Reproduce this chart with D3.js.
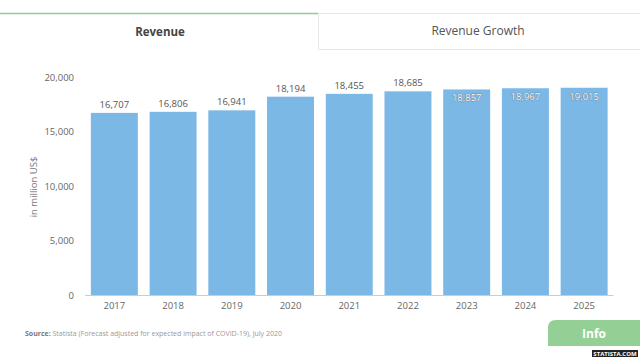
<!DOCTYPE html>
<html>
<head>
<meta charset="utf-8">
<script src="https://cdn.jsdelivr.net/npm/d3@7"></script>
<style>
  body { margin: 0; background: #fff; }
  svg { display: block; font-family: "Open Sans", sans-serif; }
</style>
</head>
<body>
<div id="chart"></div>
<script>
var years = ["2017", "2018", "2019", "2020", "2021", "2022", "2023", "2024", "2025"];
var revenue = [16707, 16806, 16941, 18194, 18455, 18685, 18857, 18967, 19015];
var yTicks = [0, 5000, 10000, 15000, 20000];
var insideLabel = ["2023", "2024", "2025"];

var w = 640, h = 360;
var fmt = d3.format(",");

var svg = d3.select("#chart").append("svg")
    .attr("width", w)
    .attr("height", h);

svg.append("rect").attr("width", w).attr("height", h).attr("fill", "#fff");

// tabs
svg.append("line")
    .attr("x1", 0).attr("x2", 318).attr("y1", 13.5).attr("y2", 13.5)
    .attr("stroke", "#8fcb93").attr("stroke-width", 1.5);
svg.append("rect")
    .attr("x", 318.5).attr("y", 13.5).attr("width", 322).attr("height", 36)
    .attr("fill", "#fff").attr("stroke", "#e8e8e8");
svg.append("text")
    .attr("x", 160).attr("y", 36)
    .attr("text-anchor", "middle")
    .attr("font-size", "11.5px").attr("font-weight", "bold")
    .attr("fill", "#444")
    .text("Revenue");
svg.append("text")
    .attr("x", 478).attr("y", 35)
    .attr("text-anchor", "middle")
    .attr("font-size", "12px")
    .attr("fill", "#555")
    .text("Revenue Growth");

var xScale = d3.scaleBand()
    .domain(years)
    .range([85, 613.5])
    .paddingInner(0.2)
    .paddingOuter(0.1);

var yScale = d3.scaleLinear()
    .domain([0, 20000])
    .range([295, 77]);

// y axis
var yAxis = svg.append("g")
    .attr("transform", "translate(74,0)")
    .call(d3.axisLeft(yScale).tickValues(yTicks).tickFormat(fmt).tickSize(0).tickPadding(0));
yAxis.select(".domain").remove();
yAxis.selectAll("text")
    .attr("font-family", "Open Sans, sans-serif")
    .attr("font-size", "9.5px")
    .attr("fill", "#666");

svg.append("text")
    .attr("transform", "translate(37,187) rotate(-90)")
    .attr("text-anchor", "middle")
    .attr("font-size", "9.5px")
    .attr("fill", "#777")
    .text("in million US$");

// bars
svg.selectAll("rect.bar")
    .data(revenue)
    .enter()
    .append("rect")
    .attr("class", "bar")
    .attr("x", function(d, i) { return xScale(years[i]); })
    .attr("y", function(d) { return yScale(d); })
    .attr("width", xScale.bandwidth())
    .attr("height", function(d) { return yScale(0) - yScale(d); })
    .attr("fill", "#7cb8e6");

// x axis
var xAxis = svg.append("g")
    .attr("transform", "translate(0,295)")
    .call(d3.axisBottom(xScale).tickSize(0).tickPadding(7));
xAxis.select(".domain").attr("stroke", "#ccc").attr("d", "M85,0.5H613.5");
xAxis.selectAll("text")
    .attr("font-family", "Open Sans, sans-serif")
    .attr("font-size", "9.5px")
    .attr("fill", "#666");

// value labels
svg.selectAll("text.val")
    .data(revenue)
    .enter()
    .append("text")
    .attr("class", "val")
    .attr("x", function(d, i) { return xScale(years[i]) + xScale.bandwidth() / 2; })
    .attr("y", function(d, i) {
        return insideLabel.indexOf(years[i]) >= 0 ? yScale(d) + 12 : yScale(d) - 5;
    })
    .attr("text-anchor", "middle")
    .attr("font-size", "9.5px")
    .attr("fill", function(d, i) { return insideLabel.indexOf(years[i]) >= 0 ? "#fff" : "#555"; })
    .attr("stroke", function(d, i) { return insideLabel.indexOf(years[i]) >= 0 ? "#666" : "none"; })
    .attr("stroke-width", 0.6)
    .attr("paint-order", "stroke")
    .text(function(d) { return fmt(d); });

// source
var src = svg.append("text")
    .attr("x", 25).attr("y", 336)
    .attr("font-size", "7px")
    .attr("fill", "#999");
src.append("tspan").attr("font-weight", "bold").attr("fill", "#777").text("Source: ");
src.append("tspan").text("Statista (Forecast adjusted for expected impact of COVID-19), July 2020");

// info button
svg.append("path")
    .attr("d", "M548,346V328Q548,320 556,320H640V346Z")
    .attr("fill", "#94cf96");
svg.append("text")
    .attr("x", 594).attr("y", 338)
    .attr("text-anchor", "middle")
    .attr("font-size", "12px").attr("font-weight", "bold")
    .attr("fill", "#fff")
    .text("Info");

svg.append("rect")
    .attr("x", 592).attr("y", 350).attr("width", 46).attr("height", 7)
    .attr("fill", "#222");
svg.append("text")
    .attr("x", 615).attr("y", 356)
    .attr("text-anchor", "middle")
    .attr("font-size", "6px").attr("font-weight", "bold")
    .attr("fill", "#fff")
    .text("STATISTA.COM");
</script>
</body>
</html>
